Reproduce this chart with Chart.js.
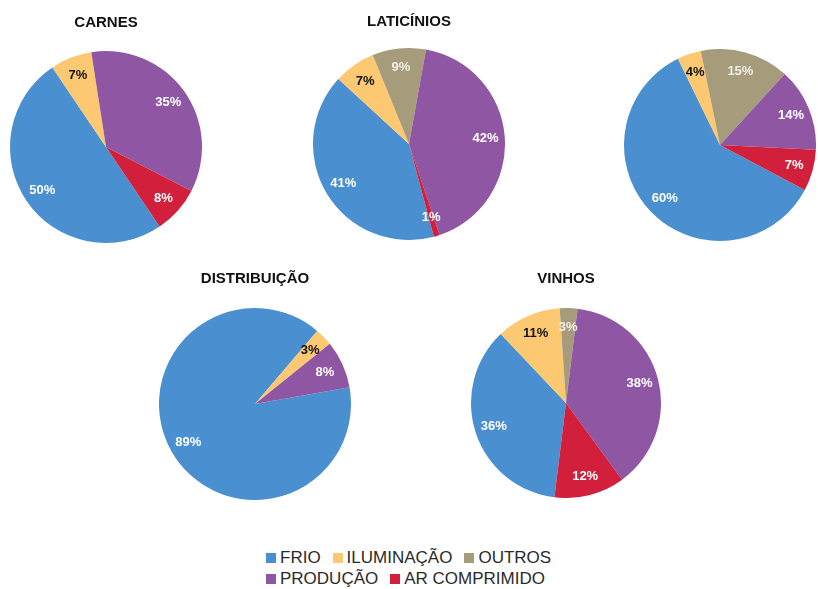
<!DOCTYPE html>
<html>
<head>
<meta charset="utf-8">
<script src="https://cdn.jsdelivr.net/npm/chart.js@4.4.1/dist/chart.umd.min.js"></script>
<style>
  html, body { margin: 0; padding: 0; background: #ffffff; }
  body { width: 818px; height: 589px; position: relative; overflow: hidden; font-family: "Liberation Sans", Arial, sans-serif; }
  canvas { position: absolute; }
  #legend { position: absolute; left: 266px; top: 547px; font-size: 17px; color: #2a2a2a; line-height: 21px; }
  .row { display: flex; align-items: center; white-space: nowrap; }
  .item { display: flex; align-items: center; margin-right: 12px; }
  .sw { width: 10px; height: 10px; margin-right: 4px; display: inline-block; }
</style>
</head>
<body>
<canvas id="c0"></canvas>
<canvas id="c1"></canvas>
<canvas id="c2"></canvas>
<canvas id="c3"></canvas>
<canvas id="c4"></canvas>
<div id="legend"></div>
<script>
// ---- data ----
const categories = ['FRIO', 'ILUMINAÇÃO', 'OUTROS', 'PRODUÇÃO', 'AR COMPRIMIDO'];
const chartTitles = ['CARNES', 'LATICÍNIOS', '', 'DISTRIBUIÇÃO', 'VINHOS'];
const carnes       = [50, 7, 0, 35, 8];
const laticinios   = [41, 7, 9, 42, 1];
const terceiro     = [60, 4, 15, 14, 7];
const distribuicao = [89, 3, 0, 8, 0];
const vinhos       = [36, 11, 3, 38, 12];
const seriesList = [carnes, laticinios, terceiro, distribuicao, vinhos];
const legendRows = [['FRIO', 'ILUMINAÇÃO', 'OUTROS'], ['PRODUÇÃO', 'AR COMPRIMIDO']];

// ---- styles / layout ----
const colors = ['#4a8fcf', '#fdc872', '#a69c7b', '#8f56a4', '#d21f3b'];
const labelColors = ['#ffffff', '#111111', '#f4f0e8', '#ffffff', '#ffffff'];
const layouts = [
  { cx: 106, cy: 147, r: 96, ty: 23, rot: 146 },
  { cx: 409, cy: 144, r: 96, ty: 22, rot: 165 },
  { cx: 720, cy: 145, r: 96, ty: 22, rot: 118 },
  { cx: 255, cy: 404, r: 96, ty: 279, rot: 80 },
  { cx: 566, cy: 403, r: 95, ty: 279, rot: 187 }
];

const sliceLabels = {
  id: 'sliceLabels',
  afterDatasetsDraw(chart) {
    const ctx = chart.ctx;
    const meta = chart.getDatasetMeta(0);
    const data = chart.data.datasets[0].data;
    ctx.save();
    ctx.font = 'bold 13px "Liberation Sans", Arial, sans-serif';
    ctx.textAlign = 'center';
    ctx.textBaseline = 'middle';
    meta.data.forEach((arc, i) => {
      if (!data[i]) return;
      const p = arc.getProps(['x', 'y', 'startAngle', 'endAngle', 'outerRadius'], true);
      const mid = (p.startAngle + p.endAngle) / 2;
      const rr = p.outerRadius * 0.8;
      ctx.fillStyle = labelColors[i];
      ctx.fillText(data[i] + '%', p.x + Math.cos(mid) * rr, p.y + Math.sin(mid) * rr);
    });
    ctx.restore();
  }
};

seriesList.forEach((values, k) => {
  const L = layouts[k];
  const canvas = document.getElementById('c' + k);
  const hasTitle = chartTitles[k] !== '';
  const top = hasTitle ? L.ty - 9 : L.cy - L.r;
  const padBottom = L.cy - L.r - L.ty - 9;
  canvas.width = 2 * L.r;
  canvas.height = (L.cy + L.r) - top;
  canvas.style.left = (L.cx - L.r) + 'px';
  canvas.style.top = top + 'px';
  new Chart(canvas, {
    type: 'pie',
    data: {
      labels: categories,
      datasets: [{
        data: values,
        backgroundColor: colors,
        borderWidth: 0
      }]
    },
    options: {
      responsive: false,
      animation: false,
      devicePixelRatio: 1,
      rotation: L.rot,
      layout: { padding: 0 },
      plugins: {
        legend: { display: false },
        tooltip: { enabled: false },
        title: {
          display: hasTitle,
          text: chartTitles[k],
          color: '#111111',
          font: { family: '"Liberation Sans", Arial, sans-serif', size: 15, weight: 'bold', lineHeight: 1.2 },
          padding: { top: 0, bottom: padBottom }
        }
      }
    },
    plugins: [sliceLabels]
  });
});

// ---- legend ----
const legend = document.getElementById('legend');
legendRows.forEach(row => {
  const r = document.createElement('div');
  r.className = 'row';
  row.forEach(name => {
    const idx = categories.indexOf(name);
    const it = document.createElement('span');
    it.className = 'item';
    const sw = document.createElement('span');
    sw.className = 'sw';
    sw.style.background = colors[idx];
    it.appendChild(sw);
    it.appendChild(document.createTextNode(name));
    r.appendChild(it);
  });
  legend.appendChild(r);
});
</script>
</body>
</html>
